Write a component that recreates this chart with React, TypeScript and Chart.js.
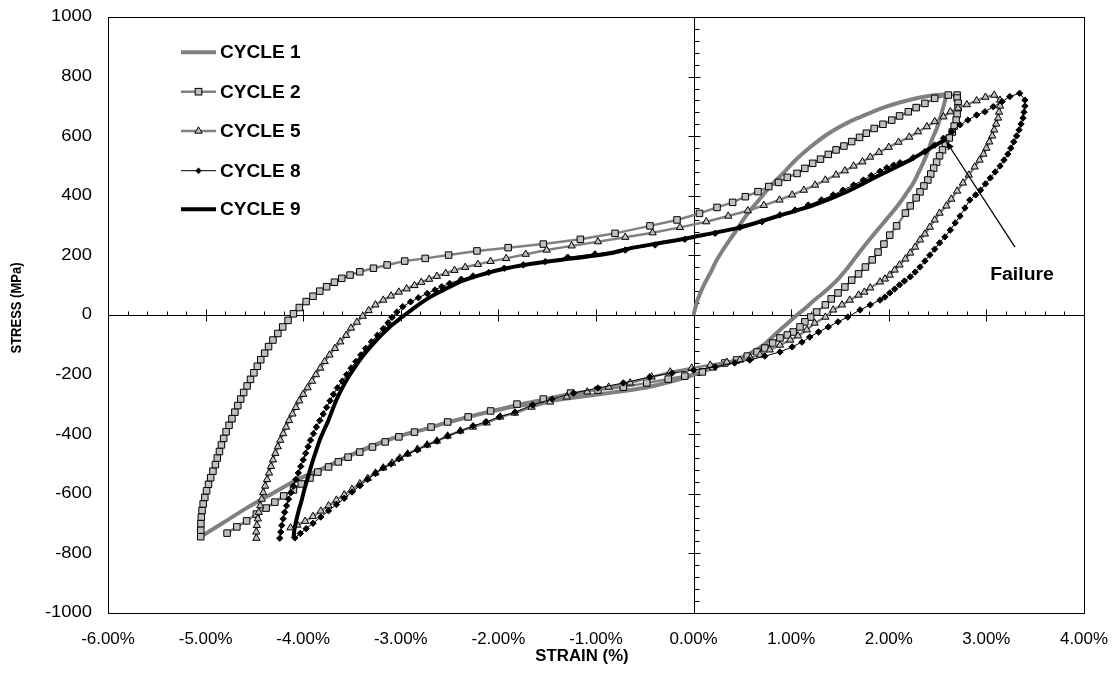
import React, { useEffect, useRef } from "react";
import { Chart, registerables } from "chart.js";

Chart.register(...registerables);

// ---------- axis ticks ----------
const xTicks = [-6, -5, -4, -3, -2, -1, 0, 1, 2, 3, 4];
const xTickLabels = ["-6.00%", "-5.00%", "-4.00%", "-3.00%", "-2.00%", "-1.00%", "0.00%", "1.00%", "2.00%", "3.00%", "4.00%"];
const yTicks = [-1000, -800, -600, -400, -200, 0, 200, 400, 600, 800, 1000];
const xMinorPerMajor = 5;
const yMinorPerMajor = 5;

const xTitle = "STRAIN (%)";
const yTitle = "STRESS (MPa)";
const legendLabels = ["CYCLE 1", "CYCLE 2", "CYCLE 5", "CYCLE 8", "CYCLE 9"];

// annotation (data units)
const failureText = "Failure";
const failureTextAt = [3.365, 134];
const failureArrowTail = [3.293, 228];
const failureArrowTip = [2.585, 584];

// ---------- series: [strain %, stress MPa] ----------
const cycle1 = [
  [0, 0], [0.03, 40], [0.07, 75], [0.12, 110], [0.17, 140], [0.23, 180], [0.3, 218], [0.37, 252], [0.44, 285],
  [0.52, 325], [0.61, 363], [0.7, 398], [0.78, 431], [0.87, 460], [0.95, 487], [1.05, 522], [1.16, 554], [1.26, 580],
  [1.36, 604], [1.48, 628], [1.6, 649], [1.72, 666], [1.85, 684], [1.98, 700], [2.12, 714], [2.25, 725], [2.38, 733],
  [2.49, 738], [2.57, 739], [2.58, 725], [2.56, 700], [2.53, 665], [2.49, 625], [2.44, 587], [2.4, 548], [2.35, 509],
  [2.3, 475], [2.25, 442], [2.18, 408], [2.11, 375], [2.03, 342], [1.94, 307], [1.84, 268], [1.77, 240], [1.705, 213],
  [1.64, 185], [1.57, 155], [1.49, 124], [1.4, 95], [1.32, 72], [1.23, 48], [1.15, 24], [1.06, 0], [0.97, -26],
  [0.885, -50], [0.8, -76], [0.715, -101], [0.63, -119], [0.54, -135], [0.44, -150], [0.34, -162], [0.23, -174],
  [0.13, -185], [0.06, -193], [0, -201], [-0.12, -213], [-0.24, -224], [-0.36, -234], [-0.48, -243], [-0.7, -254],
  [-0.93, -264], [-1.16, -274], [-1.4, -285], [-1.62, -296], [-1.85, -308], [-2.08, -324], [-2.32, -343], [-2.55, -363],
  [-2.75, -383], [-2.95, -400], [-3.14, -420], [-3.3, -440], [-3.46, -462], [-3.62, -487], [-3.77, -510], [-3.92, -532],
  [-4.07, -554], [-4.32, -600], [-4.58, -648], [-4.82, -697], [-5.05, -744],
];

const cycle2 = [
  [-5.05, -744], [-5.05, -722], [-5.048, -700], [-5.044, -678], [-5.036, -656], [-5.025, -634], [-5.008, -612],
  [-4.99, -590], [-4.97, -568], [-4.948, -546], [-4.925, -524], [-4.9, -502], [-4.88, -480], [-4.858, -458],
  [-4.838, -436], [-4.815, -414], [-4.79, -392], [-4.76, -370], [-4.73, -348], [-4.7, -326], [-4.67, -304],
  [-4.64, -282], [-4.61, -260], [-4.575, -238], [-4.54, -216], [-4.505, -194], [-4.47, -172], [-4.435, -150],
  [-4.395, -128], [-4.355, -106], [-4.31, -84], [-4.26, -62], [-4.21, -40], [-4.155, -18], [-4.1, 4], [-4.04, 25],
  [-3.97, 45], [-3.9, 63], [-3.83, 80], [-3.76, 95], [-3.68, 110], [-3.605, 123], [-3.52, 134], [-3.42, 145],
  [-3.28, 157], [-3.14, 168], [-2.96, 181], [-2.75, 190], [-2.51, 201], [-2.22, 215], [-1.9, 226], [-1.54, 238],
  [-1.16, 254], [-0.805, 274], [-0.447, 299], [-0.17, 319], [0.06, 341], [0.24, 361], [0.4, 378], [0.53, 397],
  [0.66, 414], [0.77, 431], [0.87, 445], [0.96, 462], [1.06, 475], [1.14, 492], [1.22, 509], [1.3, 523], [1.38, 539],
  [1.46, 554], [1.54, 567], [1.62, 582], [1.7, 596], [1.77, 610], [1.85, 626], [1.94, 640], [2.03, 654], [2.11, 668],
  [2.2, 682], [2.28, 696], [2.37, 710], [2.47, 727], [2.61, 738], [2.7, 738],
  [2.7, 728], [2.71, 711], [2.71, 695], [2.7, 674], [2.69, 654], [2.67, 634], [2.65, 614], [2.62, 594], [2.58, 574],
  [2.55, 554], [2.52, 534], [2.49, 513], [2.46, 493], [2.43, 473], [2.4, 453], [2.36, 433], [2.32, 413], [2.28, 393],
  [2.22, 366], [2.17, 342], [2.08, 299], [2.01, 268], [1.95, 238], [1.89, 211], [1.83, 185], [1.76, 161], [1.69, 138],
  [1.62, 117], [1.55, 94], [1.48, 74], [1.41, 54], [1.35, 34], [1.26, 10], [1.2, -7], [1.14, -23], [1.09, -40],
  [1.02, -57], [0.96, -67], [0.885, -77], [0.81, -94], [0.73, -111], [0.65, -124], [0.55, -138], [0.44, -151],
  [0.32, -161], [0.2, -174], [0.09, -191], [-0.09, -205], [-0.26, -215], [-0.48, -228], [-0.72, -242], [-0.98, -252],
  [-1.26, -262], [-1.54, -282], [-1.81, -299], [-2.08, -322], [-2.31, -342], [-2.52, -359], [-2.69, -376],
  [-2.86, -393], [-3.02, -409], [-3.16, -426], [-3.29, -443], [-3.42, -460], [-3.54, -477], [-3.64, -493],
  [-3.74, -510], [-3.85, -527], [-3.93, -547], [-4.02, -567], [-4.1, -587], [-4.2, -607], [-4.29, -628], [-4.38, -648],
  [-4.48, -668], [-4.58, -691], [-4.68, -711], [-4.78, -732],
];

const cycle5 = [
  [-4.48, -749], [-4.48, -728], [-4.475, -706], [-4.465, -684], [-4.455, -662], [-4.44, -640], [-4.425, -618],
  [-4.41, -596], [-4.39, -574], [-4.37, -552], [-4.35, -530], [-4.33, -508], [-4.31, -486], [-4.285, -464],
  [-4.26, -442], [-4.235, -420], [-4.205, -398], [-4.175, -376], [-4.145, -354], [-4.11, -332], [-4.075, -310],
  [-4.04, -288], [-4.0, -266], [-3.955, -244], [-3.91, -222], [-3.87, -200], [-3.825, -178], [-3.78, -156],
  [-3.73, -134], [-3.675, -112], [-3.62, -90], [-3.56, -68], [-3.51, -44], [-3.45, -24], [-3.39, -4], [-3.33, 15],
  [-3.26, 34], [-3.18, 50], [-3.1, 64], [-3.02, 77], [-2.94, 88], [-2.86, 99], [-2.79, 110], [-2.71, 120],
  [-2.63, 130], [-2.54, 140], [-2.45, 150], [-2.34, 160], [-2.21, 170], [-2.08, 180], [-1.92, 190], [-1.72, 204],
  [-1.505, 218], [-1.25, 232], [-0.98, 246], [-0.7, 261], [-0.42, 276], [-0.14, 294], [0.13, 313], [0.355, 332],
  [0.555, 350], [0.72, 368], [0.88, 386], [1.01, 403], [1.13, 419], [1.245, 436], [1.35, 453], [1.46, 470],
  [1.55, 484], [1.64, 500], [1.73, 514], [1.81, 530], [1.9, 546], [2.0, 563], [2.1, 580], [2.21, 597], [2.3, 615],
  [2.39, 632], [2.47, 649], [2.56, 665], [2.63, 682], [2.71, 694], [2.8, 706], [2.9, 719], [2.99, 731], [3.08, 738],
  [3.14, 721], [3.14, 701], [3.13, 681], [3.12, 661], [3.1, 641], [3.08, 621], [3.06, 601], [3.03, 581], [3.0, 560],
  [2.97, 540], [2.93, 520], [2.88, 497], [2.82, 470], [2.76, 443], [2.7, 416], [2.64, 389], [2.59, 366], [2.52, 342],
  [2.47, 319], [2.42, 295], [2.37, 272], [2.32, 252], [2.27, 228], [2.22, 208], [2.17, 188], [2.11, 168], [2.06, 151],
  [2.01, 134], [1.96, 121], [1.91, 111], [1.81, 91], [1.75, 77], [1.69, 67], [1.6, 50], [1.52, 34], [1.43, 17],
  [1.35, -7], [1.24, -27], [1.16, -50], [1.07, -70], [0.99, -84], [0.885, -101], [0.78, -117], [0.68, -134],
  [0.58, -144], [0.475, -151], [0.34, -158], [0.17, -168], [-0.02, -178], [-0.24, -191], [-0.43, -208], [-0.65, -228],
  [-0.87, -242], [-1.09, -258], [-1.3, -275], [-1.47, -292], [-1.66, -309], [-1.83, -329], [-1.98, -342],
  [-2.12, -362], [-2.26, -376], [-2.39, -389], [-2.52, -406], [-2.63, -423], [-2.73, -436], [-2.83, -450],
  [-2.93, -466], [-3.01, -480], [-3.09, -497], [-3.18, -513], [-3.26, -530], [-3.34, -548], [-3.42, -566],
  [-3.5, -585], [-3.58, -603], [-3.66, -621], [-3.74, -640], [-3.82, -658], [-3.9, -676], [-3.98, -692],
  [-4.06, -705], [-4.13, -714],
];

const cycle8 = [
  [-4.24, -749], [-4.23, -728], [-4.22, -706], [-4.205, -684], [-4.19, -662], [-4.17, -640], [-4.15, -618],
  [-4.125, -596], [-4.1, -574], [-4.075, -552], [-4.05, -530], [-4.025, -508], [-4.0, -486], [-3.975, -464],
  [-3.95, -442], [-3.925, -420], [-3.895, -398], [-3.865, -376], [-3.83, -354], [-3.795, -332], [-3.76, -310],
  [-3.725, -288], [-3.69, -266], [-3.65, -244], [-3.6, -222], [-3.555, -200], [-3.51, -178], [-3.46, -156],
  [-3.41, -134], [-3.36, -112], [-3.3, -90], [-3.24, -68], [-3.18, -46], [-3.13, -26], [-3.09, -8], [-3.04, 10],
  [-2.98, 28], [-2.9, 44], [-2.82, 58], [-2.73, 72], [-2.65, 84], [-2.58, 95], [-2.5, 106], [-2.38, 120],
  [-2.26, 131], [-2.1, 143], [-1.94, 157], [-1.745, 168], [-1.52, 179], [-1.29, 194], [-1.01, 205], [-0.7, 218],
  [-0.395, 235], [-0.09, 254], [0.22, 274], [0.475, 294], [0.7, 313], [0.885, 336], [1.04, 352], [1.175, 369],
  [1.31, 386], [1.43, 403], [1.53, 419], [1.64, 436], [1.74, 453], [1.82, 468], [1.91, 482], [1.98, 494],
  [2.05, 503], [2.115, 511], [2.25, 528], [2.37, 548], [2.47, 570], [2.56, 593], [2.645, 615], [2.73, 638],
  [2.81, 654], [2.9, 671], [2.985, 682], [3.07, 699], [3.16, 716], [3.24, 733], [3.34, 744],
  [3.395, 721], [3.395, 701], [3.385, 681], [3.375, 661], [3.355, 641], [3.335, 621], [3.31, 601], [3.28, 581],
  [3.25, 560], [3.22, 540], [3.18, 520], [3.14, 500], [3.09, 480], [3.04, 460], [2.99, 440], [2.94, 419],
  [2.89, 403], [2.83, 386], [2.78, 359], [2.73, 332], [2.68, 309], [2.63, 285], [2.575, 262], [2.52, 242],
  [2.47, 221], [2.42, 201], [2.37, 181], [2.32, 161], [2.27, 144], [2.22, 128], [2.16, 114], [2.11, 101],
  [2.06, 87], [2.01, 74], [1.96, 60], [1.91, 50], [1.81, 34], [1.705, 17], [1.58, -7], [1.48, -23], [1.38, -40],
  [1.28, -57], [1.19, -74], [1.11, -91], [1.01, -107], [0.885, -124], [0.73, -138], [0.575, -151], [0.42, -161],
  [0.22, -174], [0.0, -185], [-0.22, -195], [-0.45, -208], [-0.72, -228], [-0.98, -245], [-1.23, -262],
  [-1.45, -282], [-1.65, -302], [-1.83, -326], [-1.99, -342], [-2.13, -359], [-2.26, -372], [-2.39, -389],
  [-2.52, -406], [-2.63, -423], [-2.73, -436], [-2.83, -453], [-2.93, -466], [-3.02, -483], [-3.1, -500],
  [-3.18, -513], [-3.26, -532], [-3.34, -552], [-3.42, -573], [-3.5, -594], [-3.58, -615], [-3.66, -636],
  [-3.74, -657], [-3.82, -678], [-3.9, -699], [-3.97, -717], [-4.03, -733], [-4.085, -748],
];

const cycle9 = [
  [-4.1, -749], [-4.09, -720], [-4.07, -688], [-4.045, -655], [-4.015, -621], [-3.99, -588], [-3.96, -554],
  [-3.93, -520], [-3.9, -487], [-3.865, -453], [-3.83, -419], [-3.785, -385], [-3.74, -352], [-3.7, -318],
  [-3.66, -285], [-3.61, -251], [-3.555, -218], [-3.49, -185], [-3.42, -151], [-3.345, -120], [-3.265, -90],
  [-3.19, -64], [-3.11, -39], [-3.03, -18], [-2.96, 0], [-2.87, 22], [-2.8, 39], [-2.7, 60], [-2.6, 78],
  [-2.49, 96], [-2.39, 112], [-2.19, 134], [-1.915, 157], [-1.57, 176], [-1.23, 190], [-0.855, 207], [-0.62, 226],
  [-0.3, 244], [0, 262], [0.475, 294], [0.885, 334], [1.23, 369], [1.57, 414], [1.91, 470], [2.22, 520],
  [2.42, 559], [2.59, 590],
];

const FONT = "'Liberation Sans', Arial, Helvetica, sans-serif";
const GRAY_LINE = "#808080";
const GRAY_FILL = "#c0c0c0";

const toXY = (arr: number[][]) => arr.map(([x, y]) => ({ x, y }));

function stretchText(ctx: CanvasRenderingContext2D, text: string, x: number, y: number, align: CanvasTextAlign, sx: number) {
  ctx.save();
  ctx.translate(x, y);
  ctx.scale(sx, 1);
  ctx.textAlign = align;
  ctx.fillText(text, 0, 0);
  ctx.restore();
}

function drawMarker(ctx: CanvasRenderingContext2D, kind: string, x: number, y: number) {
  ctx.save();
  ctx.lineWidth = 1;
  ctx.strokeStyle = "#000";
  if (kind === "rect") {
    ctx.fillStyle = GRAY_FILL;
    ctx.fillRect(x - 3.3, y - 3.3, 6.6, 6.6);
    ctx.strokeRect(x - 3.3, y - 3.3, 6.6, 6.6);
  } else if (kind === "triangle") {
    ctx.fillStyle = GRAY_FILL;
    ctx.beginPath();
    ctx.moveTo(x, y - 4.2);
    ctx.lineTo(x + 3.7, y + 2.2);
    ctx.lineTo(x - 3.7, y + 2.2);
    ctx.closePath();
    ctx.fill();
    ctx.stroke();
  } else if (kind === "rectRot") {
    ctx.fillStyle = "#000";
    ctx.beginPath();
    ctx.moveTo(x, y - 3.3);
    ctx.lineTo(x + 3.3, y);
    ctx.lineTo(x, y + 3.3);
    ctx.lineTo(x - 3.3, y);
    ctx.closePath();
    ctx.fill();
  }
  ctx.restore();
}

const legendStyles = [
  { color: GRAY_LINE, width: 4, marker: "" },
  { color: GRAY_LINE, width: 2.5, marker: "rect" },
  { color: GRAY_LINE, width: 2.5, marker: "triangle" },
  { color: "#000", width: 1, marker: "rectRot" },
  { color: "#000", width: 4, marker: "" },
];

const decorPlugin = {
  id: "decor",
  beforeDatasetsDraw(chart: any) {
    const { ctx, chartArea: a, scales } = chart;
    const sx = scales.x;
    const sy = scales.y;
    const x0 = Math.round(sx.getPixelForValue(0)) + 0.5;
    const y0 = Math.round(sy.getPixelForValue(0)) + 0.5;
    ctx.save();
    ctx.strokeStyle = "#000";
    ctx.lineWidth = 1;
    ctx.beginPath();
    ctx.moveTo(a.left, y0);
    ctx.lineTo(a.right, y0);
    ctx.moveTo(x0, a.top);
    ctx.lineTo(x0, a.bottom);
    // x ticks on the horizontal zero axis
    for (let i = 0; i < xTicks.length; i++) {
      const px = Math.round(sx.getPixelForValue(xTicks[i])) + 0.5;
      ctx.moveTo(px, y0 - 6);
      ctx.lineTo(px, y0 + 6);
      if (i < xTicks.length - 1) {
        const step = (xTicks[i + 1] - xTicks[i]) / xMinorPerMajor;
        for (let k = 1; k < xMinorPerMajor; k++) {
          const mx = Math.round(sx.getPixelForValue(xTicks[i] + k * step)) + 0.5;
          ctx.moveTo(mx, y0 - 4);
          ctx.lineTo(mx, y0);
        }
      }
    }
    // y ticks on the vertical zero axis
    for (let i = 0; i < yTicks.length; i++) {
      const py = Math.round(sy.getPixelForValue(yTicks[i])) + 0.5;
      ctx.moveTo(x0 - 6, py);
      ctx.lineTo(x0 + 6, py);
      if (i < yTicks.length - 1) {
        const step = (yTicks[i + 1] - yTicks[i]) / yMinorPerMajor;
        for (let k = 1; k < yMinorPerMajor; k++) {
          const my = Math.round(sy.getPixelForValue(yTicks[i] + k * step)) + 0.5;
          ctx.moveTo(x0, my);
          ctx.lineTo(x0 + 5, my);
        }
      }
    }
    ctx.stroke();
    ctx.restore();
  },
  afterDatasetsDraw(chart: any) {
    const { ctx, chartArea: a } = chart;
    ctx.save();
    ctx.strokeStyle = "#000";
    ctx.lineWidth = 1;
    ctx.strokeRect(Math.round(a.left) + 0.5, Math.round(a.top) + 0.5, Math.round(a.right - a.left), Math.round(a.bottom - a.top));
    ctx.restore();
  },
  afterDraw(chart: any) {
    const { ctx, chartArea: a, scales } = chart;
    const sx = scales.x;
    const sy = scales.y;
    ctx.save();
    ctx.fillStyle = "#000";
    ctx.textBaseline = "middle";
    // x tick labels
    ctx.font = `16px ${FONT}`;
    for (let i = 0; i < xTicks.length; i++) {
      stretchText(ctx, xTickLabels[i], sx.getPixelForValue(xTicks[i]), a.bottom + 27, "center", 1.06);
    }
    // y tick labels
    for (let i = 0; i < yTicks.length; i++) {
      stretchText(ctx, String(yTicks[i]), a.left - 16, sy.getPixelForValue(yTicks[i]), "right", 1.15);
    }
    // titles
    ctx.font = `bold 16px ${FONT}`;
    stretchText(ctx, xTitle, (a.left + a.right) / 2 - 14, a.bottom + 44, "center", 1.05);
    ctx.save();
    ctx.translate(9, (a.top + a.bottom) / 2 - 7);
    ctx.rotate(-Math.PI / 2);
    ctx.scale(1, 1.15);
    ctx.font = `bold 13px ${FONT}`;
    ctx.textAlign = "center";
    ctx.fillText(yTitle, 0, 0);
    ctx.restore();

    // legend
    const rowY = [44.3, 83.7, 123, 162.7, 201.3];
    for (let i = 0; i < legendLabels.length; i++) {
      const st = legendStyles[i];
      const y = rowY[i];
      ctx.save();
      ctx.strokeStyle = st.color;
      ctx.lineWidth = st.width;
      ctx.beginPath();
      ctx.moveTo(173, y);
      ctx.lineTo(208, y);
      ctx.stroke();
      ctx.restore();
      if (st.marker) drawMarker(ctx, st.marker, 190.5, y);
      ctx.font = `bold 18px ${FONT}`;
      ctx.fillStyle = "#000";
      stretchText(ctx, legendLabels[i], 212, y + 1, "left", 1.06);
    }

    // failure annotation
    const tx = sx.getPixelForValue(failureArrowTail[0]);
    const ty = sy.getPixelForValue(failureArrowTail[1]);
    const hx = sx.getPixelForValue(failureArrowTip[0]);
    const hy = sy.getPixelForValue(failureArrowTip[1]);
    const ang = Math.atan2(hy - ty, hx - tx);
    const hl = 9;
    const hw = 3.5;
    ctx.strokeStyle = "#000";
    ctx.lineWidth = 1.3;
    ctx.beginPath();
    ctx.moveTo(tx, ty);
    ctx.lineTo(hx - Math.cos(ang) * hl * 0.8, hy - Math.sin(ang) * hl * 0.8);
    ctx.stroke();
    ctx.beginPath();
    ctx.moveTo(hx, hy);
    ctx.lineTo(hx - Math.cos(ang) * hl - Math.sin(ang) * hw, hy - Math.sin(ang) * hl + Math.cos(ang) * hw);
    ctx.lineTo(hx - Math.cos(ang) * hl + Math.sin(ang) * hw, hy - Math.sin(ang) * hl - Math.cos(ang) * hw);
    ctx.closePath();
    ctx.fillStyle = "#000";
    ctx.fill();
    ctx.font = `bold 18px ${FONT}`;
    stretchText(ctx, failureText, sx.getPixelForValue(failureTextAt[0]), sy.getPixelForValue(failureTextAt[1]), "center", 1.08);
    ctx.restore();
  },
};

export default function App() {
  const canvasRef = useRef<HTMLCanvasElement | null>(null);

  useEffect(() => {
    if (!canvasRef.current) return;
    const chart = new Chart(canvasRef.current, {
      type: "scatter",
      data: {
        datasets: [
          {
            label: legendLabels[0],
            data: toXY(cycle1),
            showLine: true,
            borderColor: GRAY_LINE,
            borderWidth: 4,
            pointRadius: 0,
            tension: 0.25,
            order: 4,
          },
          {
            label: legendLabels[1],
            data: toXY(cycle2),
            showLine: true,
            borderColor: GRAY_LINE,
            borderWidth: 2.5,
            pointStyle: "rect",
            pointRadius: 4.6,
            pointBackgroundColor: GRAY_FILL,
            pointBorderColor: "#000",
            pointBorderWidth: 1,
            tension: 0,
            order: 3,
          },
          {
            label: legendLabels[2],
            data: toXY(cycle5),
            showLine: true,
            borderColor: GRAY_LINE,
            borderWidth: 2.5,
            pointStyle: "triangle",
            pointRadius: 4.2,
            pointBackgroundColor: GRAY_FILL,
            pointBorderColor: "#000",
            pointBorderWidth: 1,
            tension: 0,
            order: 2,
          },
          {
            label: legendLabels[3],
            data: toXY(cycle8),
            showLine: true,
            borderColor: "#000",
            borderWidth: 1,
            pointStyle: "rectRot",
            pointRadius: 3.2,
            pointBackgroundColor: "#000",
            pointBorderColor: "#000",
            pointBorderWidth: 1,
            tension: 0,
            order: 1,
          },
          {
            label: legendLabels[4],
            data: toXY(cycle9),
            showLine: true,
            borderColor: "#000",
            borderWidth: 4,
            pointRadius: 0,
            tension: 0.25,
            order: 0,
          },
        ],
      },
      options: {
        animation: false,
        responsive: true,
        maintainAspectRatio: false,
        layout: { padding: { left: 100, right: 25, top: 9, bottom: 58 } },
        scales: {
          x: { type: "linear", min: -6, max: 4, display: false },
          y: { type: "linear", min: -1000, max: 1000, display: false },
        },
        plugins: {
          legend: { display: false },
          tooltip: { enabled: false },
        },
        events: [],
      },
      plugins: [decorPlugin],
    });
    return () => chart.destroy();
  }, []);

  return (
    <div style={{ width: "1101px", height: "663px", position: "relative" }}>
      <canvas ref={canvasRef} />
    </div>
  );
}
